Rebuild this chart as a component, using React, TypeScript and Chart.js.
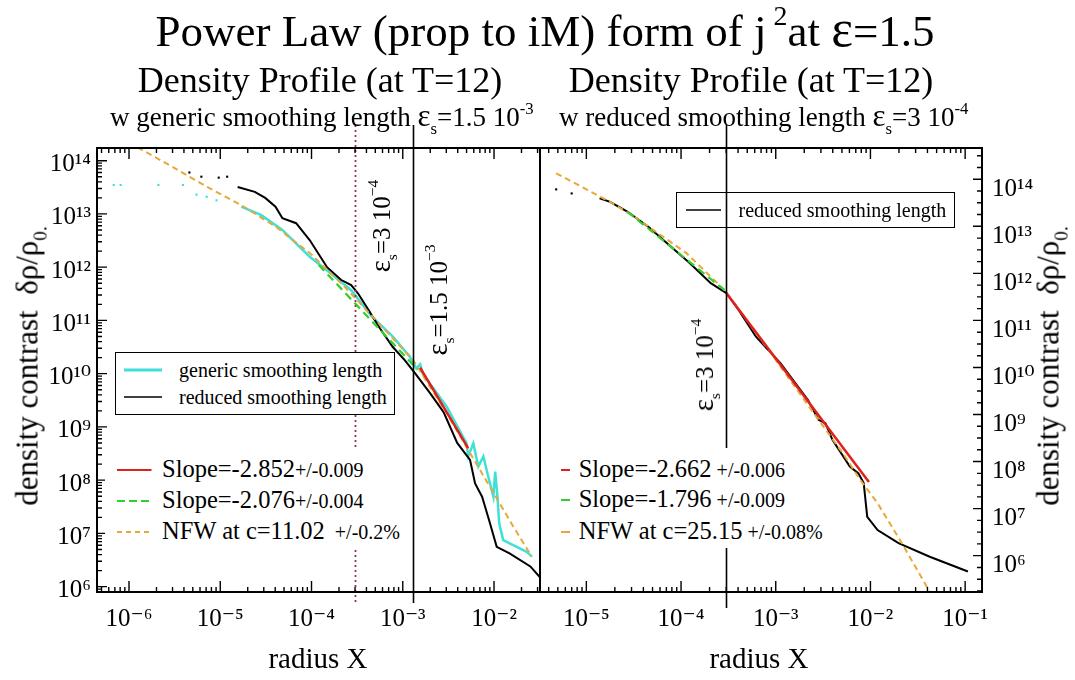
import React, { useEffect, useRef } from 'react';
import { Chart, registerables } from 'chart.js';

Chart.register(...registerables);

// ---------------- axis ranges ----------------
const LEFT_X_RANGE = [4.46e-7, 3.19e-2];
const LEFT_Y_RANGE = [7.94e5, 1.73e14];
const RIGHT_X_RANGE = [3.24e-6, 0.1507];
const RIGHT_Y_RANGE = [1.69e5, 4.62e14];

// ---------------- left panel (eps_s = 1.5e-3) ----------------
const leftGenericDotsX = [6.8e-7, 8.1e-7, 2.1e-6, 3.9e-6, 5.5e-6, 7.1e-6, 9.1e-6];
const leftGenericDotsY = [3.5e13, 3.5e13, 3.5e13, 3.5e13, 2.3e13, 2.1e13, 1.8e13];
const leftGenericX = [1.7e-5, 2.82e-5, 4.79e-5, 9.55e-5, 1.62e-4, 2.72e-4, 4.59e-4, 7.74e-4, 1.19e-3, 1.41e-3, 1.55e-3, 1.66e-3, 2.2e-3, 3.03e-3, 5.0e-3, 5.22e-3, 5.93e-3, 6.73e-3, 7.64e-3, 8.65e-3, 9.84e-3, 1.03e-2, 1.09e-2, 1.14e-2, 1.26e-2, 2.28e-2, 2.59e-2];
const leftGenericY = [1.37e13, 9.5e12, 5.0e12, 1.57e12, 7.7e11, 3.7e11, 1.18e11, 5.0e10, 2.1e10, 1.26e10, 1.5e10, 9.8e9, 5.1e9, 2.4e9, 4.9e8, 2.8e8, 4.9e8, 1.8e8, 2.8e8, 1.16e8, 4.9e7, 1.45e8, 4.9e7, 1.55e7, 7.5e6, 4.5e6, 3.7e6];
const leftReducedDotsX = [4.59e-6, 6.21e-6, 9.62e-6, 1.19e-5];
const leftReducedDotsY = [6.0e13, 5.0e13, 4.8e13, 5.0e13];
const leftReducedX = [1.55e-5, 2.39e-5, 3.11e-5, 4.03e-5, 4.8e-5, 6.78e-5, 9.59e-5, 1.48e-4, 2.1e-4, 2.72e-4, 3.24e-4, 4.22e-4, 5.47e-4, 7.74e-4, 1.05e-3, 1.36e-3, 1.99e-3, 2.8e-3, 3.95e-3, 5.46e-3, 6.2e-3, 7.4e-3, 8.8e-3, 1.07e-2, 1.48e-2, 2.5e-2, 3.19e-2];
const leftReducedY = [3.2e13, 2.6e13, 2.0e13, 1.37e13, 8.3e12, 6.7e12, 3.2e12, 1.0e12, 5.8e11, 4.6e11, 3.2e11, 1.57e11, 7.6e10, 3.2e10, 1.8e10, 1.02e10, 4.3e9, 1.9e9, 5.0e8, 2.4e8, 8.7e7, 4.9e7, 1.8e7, 5.6e6, 4.2e6, 2.4e6, 1.5e6];
const leftSteepFitX = [1.55e-3, 5.2e-3];
const leftSteepFitY = [1.3e10, 4.0e8];
const leftInnerFitX = [1.2e-4, 1.45e-3];
const leftInnerFitY = [1.1e12, 1.2e10];
const leftNfwX = [1.24e-6, 2.97e-6, 7.08e-6, 1.69e-5, 4.03e-5, 9.64e-5, 2.3e-4, 5.47e-4, 1.3e-3, 3.03e-3, 7.03e-3, 1.63e-2, 2.59e-2];
const leftNfwY = [1.78e14, 7.7e13, 3.25e13, 1.47e13, 5.8e12, 1.82e12, 4.3e11, 8.8e10, 1.8e10, 1.8e9, 1.55e8, 1.34e7, 3.66e6];
const leftSmoothingDotted = [3e-4];
const leftSmoothingSolid = [1.3e-3];

// ---------------- right panel (eps_s = 3e-4) ----------------
const rightReducedDotsX = [4.8e-6, 7.0e-6];
const rightReducedDotsY = [6.1e13, 5.0e13];
const rightReducedX = [1.38e-5, 1.78e-5, 2.71e-5, 4.51e-5, 7.47e-5, 1.24e-4, 2.06e-4, 3.02e-4, 4.05e-4, 6.18e-4, 1.12e-3, 2.19e-3, 2.83e-3, 3.35e-3, 3.97e-3, 6.06e-3, 7.48e-3, 8.49e-3, 9.25e-3, 1.19e-2, 1.98e-2, 4.23e-2, 0.107];
const rightReducedY = [3.95e13, 3.3e13, 2.05e13, 9.8e12, 4.0e12, 1.64e12, 6.2e11, 3.8e11, 1.67e11, 4.5e10, 1.23e10, 2.04e9, 7.7e8, 6.5e8, 2.9e8, 7.8e7, 5.6e7, 3.5e7, 6.7e6, 3.5e6, 1.84e6, 9.5e5, 4.6e5];
const rightSteepFitX = [3.02e-4, 9.64e-3];
const rightSteepFitY = [3.8e11, 3.7e7];
const rightInnerFitX = [2.71e-5, 2.88e-4];
const rightInnerFitY = [2.05e13, 4.4e11];
const rightNfwX = [4.8e-6, 1.78e-5, 3.21e-5, 1.14e-4, 2.88e-4, 9.44e-4, 2.83e-3, 5.12e-3, 7.8e-3, 1.19e-2, 2.15e-2, 4.23e-2];
const rightNfwY = [1.34e14, 3.3e13, 1.6e13, 2.7e12, 4.4e11, 1.7e10, 7.7e8, 1.5e8, 4.1e7, 1.3e7, 1.84e6, 1.7e5];
const rightSmoothingSolid = [3e-4];

// ---------------- styling ----------------
const FONT = "'Liberation Serif', 'Times New Roman', 'DejaVu Serif', serif";
const CYAN = '#3fe0d8';
const RED = '#e0201c';
const GREEN = '#2fd02f';
const ORANGE = '#e8a838';
const MAROON = '#a0304a';

const SUP: Record<string, string> = { '-': '⁻', '0': '⁰', '1': '¹', '2': '²', '3': '³', '4': '⁴', '5': '⁵', '6': '⁶', '7': '⁷', '8': '⁸', '9': '⁹' };

function powerLabel(v: number): string {
  if (!(v > 0)) return '';
  const e = Math.log10(v);
  const r = Math.round(e);
  if (Math.abs(e - r) > 1e-6) return '';
  return '10' + String(r).split('').map((c) => SUP[c] ?? c).join('');
}

function logTicks(min: number, max: number, mode: string) {
  const out: { v: number; major: boolean }[] = [];
  const e0 = Math.floor(Math.log10(min));
  const e1 = Math.ceil(Math.log10(max));
  for (let e = e0; e <= e1; e++) {
    if (mode === 'quarter') {
      for (let k = 0; k < 4; k++) out.push({ v: Math.pow(10, e + k / 4), major: k === 0 });
    } else {
      for (let m = 1; m <= 9; m++) out.push({ v: m * Math.pow(10, e), major: m === 1 });
    }
  }
  return out.filter((t) => t.v >= min * 0.9999 && t.v <= max * 1.0001);
}

const frameAndTicks = {
  id: 'frameAndTicks',
  afterDatasetsDraw(chart: any, _args: any, opts: any) {
    const { ctx, chartArea: a } = chart;
    const xs = chart.scales.x;
    const ys = chart.scales.y;
    ctx.save();
    (opts.markers || []).forEach((m: any) => {
      m.values.forEach((val: number) => {
        const px = Math.round(xs.getPixelForValue(val)) + 0.5;
        ctx.beginPath();
        ctx.setLineDash(m.dash || []);
        ctx.lineWidth = m.width;
        ctx.strokeStyle = m.color;
        ctx.moveTo(px, a.top - opts.above);
        ctx.lineTo(px, a.bottom + opts.below);
        ctx.stroke();
      });
    });
    ctx.setLineDash([]);
    ctx.strokeStyle = '#000';
    ctx.lineWidth = 1.4;
    ctx.beginPath();
    logTicks(xs.min, xs.max, 'full').forEach((t) => {
      const px = xs.getPixelForValue(t.v);
      const len = t.major ? opts.xMajor : opts.xMinor;
      ctx.moveTo(px, a.bottom);
      ctx.lineTo(px, a.bottom - len);
      ctx.moveTo(px, a.top);
      ctx.lineTo(px, a.top + len);
    });
    logTicks(ys.min, ys.max, opts.yMode).forEach((t) => {
      const py = ys.getPixelForValue(t.v);
      const len = t.major ? opts.yMajor : opts.yMinor;
      if (opts.tickLeft) {
        ctx.moveTo(a.left, py);
        ctx.lineTo(a.left + len, py);
      }
      if (opts.tickRight) {
        ctx.moveTo(a.right, py);
        ctx.lineTo(a.right - len, py);
      }
    });
    ctx.stroke();
    ctx.lineWidth = 2;
    ctx.strokeRect(a.left, a.top, a.right - a.left, a.bottom - a.top);
    ctx.restore();
  },
};

const pts = (xs: number[], ys: number[]) => xs.map((x, i) => ({ x, y: ys[i] }));

function lineSet(label: string, xs: number[], ys: number[], color: string, width: number, dash: number[] = []) {
  return {
    label,
    data: pts(xs, ys),
    showLine: true,
    borderColor: color,
    backgroundColor: color,
    borderWidth: width,
    borderDash: dash,
    pointRadius: 0,
    tension: 0,
  };
}

function dotSet(label: string, xs: number[], ys: number[], color: string) {
  return {
    label,
    data: pts(xs, ys),
    showLine: false,
    pointRadius: 1.5,
    pointStyle: 'rect',
    borderWidth: 0,
    backgroundColor: color,
    borderColor: color,
  };
}

function makeConfig(datasets: any[], xr: number[], yr: number[], yPos: string, yWidth: number, yPad: number, yOffset: number, padding: any, plug: any) {
  const tickFont = { family: FONT, size: 25 };
  return {
    type: 'scatter',
    data: { datasets },
    options: {
      animation: false,
      responsive: false,
      events: [],
      layout: { padding },
      plugins: {
        legend: { display: false },
        tooltip: { enabled: false },
        frameAndTicks: plug,
      },
      scales: {
        x: {
          type: 'logarithmic',
          position: 'bottom',
          min: xr[0],
          max: xr[1],
          grid: { display: false, drawTicks: false },
          border: { display: false },
          ticks: {
            autoSkip: false,
            maxRotation: 0,
            minRotation: 0,
            padding: 12,
            color: '#000',
            font: tickFont,
            callback: (v: any) => powerLabel(Number(v)),
          },
          afterFit: (s: any) => {
            s.height = 88;
          },
        },
        y: {
          type: 'logarithmic',
          position: yPos,
          min: yr[0],
          max: yr[1],
          grid: { display: false, drawTicks: false },
          border: { display: false },
          ticks: {
            autoSkip: false,
            padding: yPad,
            labelOffset: yOffset,
            color: '#000',
            font: tickFont,
            callback: (v: any) => powerLabel(Number(v)),
          },
          afterFit: (s: any) => {
            s.width = yWidth;
          },
        },
      },
    },
    plugins: [frameAndTicks],
  };
}

// ---------------- small text helpers ----------------
const Sup = ({ children, s = 0.62, dy = 0.75, ml = 0 }: any) => (
  <span style={{ fontSize: `${s}em`, position: 'relative', top: `-${dy}em`, lineHeight: 0, marginLeft: ml }}>{children}</span>
);
const Sub = ({ children, s = 0.62, dy = 0.45 }: any) => (
  <span style={{ fontSize: `${s}em`, position: 'relative', top: `${dy}em`, lineHeight: 0 }}>{children}</span>
);
const Eps = () => <span style={{ fontSize: '1.15em' }}>ε</span>;

function Txt({ x, base, size, align = 'left', children, style }: any) {
  const top = base - 0.8375 * size;
  const common: any = { position: 'absolute', top, fontSize: size, lineHeight: `${size}px`, whiteSpace: 'nowrap' };
  if (align === 'center') {
    return <div style={{ ...common, left: x - 600, width: 1200, textAlign: 'center', ...style }}>{children}</div>;
  }
  return <div style={{ ...common, left: x, ...style }}>{children}</div>;
}

function Rot({ cx, cy, size, children }: any) {
  return (
    <div
      style={{
        position: 'absolute',
        left: cx,
        top: cy,
        fontSize: size,
        lineHeight: `${size}px`,
        whiteSpace: 'nowrap',
        transform: 'translate(-50%, -50%) rotate(-90deg)',
      }}
    >
      {children}
    </div>
  );
}

function Sample({ x1, x2, y, color, width, dash }: any) {
  return (
    <svg style={{ position: 'absolute', left: x1, top: y - 5, overflow: 'visible' }} width={x2 - x1} height={10}>
      <line x1={0} y1={5} x2={x2 - x1} y2={5} stroke={color} strokeWidth={width} strokeDasharray={dash} />
    </svg>
  );
}

export default function App() {
  const leftRef = useRef<HTMLCanvasElement>(null);
  const rightRef = useRef<HTMLCanvasElement>(null);

  useEffect(() => {
    const leftDatasets = [
      lineSet('Slope=-2.852', leftSteepFitX, leftSteepFitY, RED, 2.5),
      lineSet('Slope=-2.076', leftInnerFitX, leftInnerFitY, GREEN, 2.2, [8, 5]),
      lineSet('NFW at c=11.02', leftNfwX, leftNfwY, ORANGE, 2, [6, 4]),
      lineSet('reduced smoothing length', leftReducedX, leftReducedY, '#000', 2),
      dotSet('reduced smoothing length (inner)', leftReducedDotsX, leftReducedDotsY, '#000'),
      lineSet('generic smoothing length', leftGenericX, leftGenericY, CYAN, 2.5),
      dotSet('generic smoothing length (inner)', leftGenericDotsX, leftGenericDotsY, CYAN),
    ];
    const rightDatasets = [
      lineSet('Slope=-2.662', rightSteepFitX, rightSteepFitY, RED, 2.5),
      lineSet('Slope=-1.796', rightInnerFitX, rightInnerFitY, GREEN, 2.2, [8, 5]),
      lineSet('NFW at c=25.15', rightNfwX, rightNfwY, ORANGE, 2, [6, 4]),
      lineSet('reduced smoothing length', rightReducedX, rightReducedY, '#000', 2),
      dotSet('reduced smoothing length (inner)', rightReducedDotsX, rightReducedDotsY, '#000'),
    ];
    const left = new Chart(
      leftRef.current as HTMLCanvasElement,
      makeConfig(leftDatasets, LEFT_X_RANGE, LEFT_Y_RANGE, 'left', 97, 6, 4, { top: 148, right: 20, bottom: 0, left: 0 }, {
        markers: [
          { values: leftSmoothingDotted, color: MAROON, width: 1.8, dash: [2, 3] },
          { values: leftSmoothingSolid, color: '#000', width: 1.6, dash: [] },
        ],
        above: 23,
        below: 11,
        xMajor: 11,
        xMinor: 5,
        yMajor: 10,
        yMinor: 5,
        yMode: 'full',
        tickLeft: true,
        tickRight: false,
      }) as any
    );
    const right = new Chart(
      rightRef.current as HTMLCanvasElement,
      makeConfig(rightDatasets, RIGHT_X_RANGE, RIGHT_Y_RANGE, 'right', 93, 10, 10, { top: 148, right: 0, bottom: 0, left: 20 }, {
        markers: [{ values: rightSmoothingSolid, color: '#000', width: 1.6, dash: [] }],
        above: 23,
        below: 16,
        xMajor: 11,
        xMinor: 5,
        yMajor: 9,
        yMinor: 5,
        yMode: 'quarter',
        tickLeft: false,
        tickRight: true,
      }) as any
    );
    return () => {
      left.destroy();
      right.destroy();
    };
  }, []);

  return (
    <div
      style={{
        position: 'absolute',
        left: 0,
        top: 0,
        width: 1075,
        height: 680,
        background: '#fff',
        overflow: 'hidden',
        fontFamily: FONT,
        color: '#000',
      }}
    >
      <canvas ref={leftRef} width={560} height={680} style={{ position: 'absolute', left: 0, top: 0 }} />
      <canvas ref={rightRef} width={555} height={680} style={{ position: 'absolute', left: 520, top: 0 }} />

      {/* titles */}
      <Txt x={545} base={44} size={45} align="center">
        Power Law (prop to iM) form of j<Sup ml="0.25em">2</Sup>at <Eps />=1.5
      </Txt>
      <Txt x={320} base={92} size={36} align="center">Density Profile (at T=12)</Txt>
      <Txt x={751} base={92} size={36} align="center">Density Profile (at T=12)</Txt>
      <Txt x={110} base={125} size={27}>
        w generic smoothing length <Eps />
        <Sub>s</Sub>=1.5 10<Sup>-3</Sup>
      </Txt>
      <Txt x={559} base={125} size={27}>
        w reduced smoothing length <Eps />
        <Sub>s</Sub>=3 10<Sup>-4</Sup>
      </Txt>

      {/* axis titles */}
      <Rot cx={27} cy={366} size={31}>
        density contrast&nbsp;&nbsp;δρ/ρ<Sub>0.</Sub>
      </Rot>
      <Rot cx={1048} cy={366} size={31}>
        density contrast&nbsp;&nbsp;δρ/ρ<Sub>0.</Sub>
      </Rot>
      <Txt x={318} base={668} size={29} align="center">radius X</Txt>
      <Txt x={759} base={668} size={29} align="center">radius X</Txt>

      {/* smoothing-length annotations */}
      <Rot cx={381} cy={226} size={25}>
        <Eps />
        <Sub>s</Sub>=3 10<Sup>−4</Sup>
      </Rot>
      <Rot cx={438} cy={300} size={25}>
        <Eps />
        <Sub>s</Sub>=1.5 10<Sup>−3</Sup>
      </Rot>
      <Rot cx={704} cy={365} size={25}>
        <Eps />
        <Sub>s</Sub>=3 10<Sup>−4</Sup>
      </Rot>

      {/* left upper legend */}
      <div style={{ position: 'absolute', left: 115, top: 352, width: 280, height: 63, border: '1.5px solid #000', background: '#fff', boxSizing: 'border-box' }} />
      <Sample x1={124} x2={162} y={369.5} color={CYAN} width={3} />
      <Txt x={179} base={376.5} size={20}>generic smoothing length</Txt>
      <Sample x1={124} x2={162} y={397} color="#000" width={1.6} />
      <Txt x={179} base={404} size={20}>reduced smoothing length</Txt>

      {/* left lower legend */}
      <div style={{ position: 'absolute', left: 105, top: 450, width: 303, height: 100, background: '#fff' }} />
      <Sample x1={117} x2={151.5} y={470} color={RED} width={2} />
      <Txt x={162} base={478} size={24.5}>
        Slope=-2.852<span style={{ fontSize: 20 }}>+/-0.009</span>
      </Txt>
      <Sample x1={117} x2={151.5} y={501} color={GREEN} width={2} dash="8 4" />
      <Txt x={162} base={509} size={24.5}>
        Slope=-2.076<span style={{ fontSize: 20 }}>+/-0.004</span>
      </Txt>
      <Sample x1={117} x2={151.5} y={532} color={ORANGE} width={2} dash="5 4" />
      <Txt x={162} base={540} size={24.5}>
        NFW at c=11.02<span style={{ fontSize: 20 }}>&nbsp;&nbsp;+/-0.2%</span>
      </Txt>

      {/* right upper legend */}
      <div style={{ position: 'absolute', left: 676, top: 192, width: 279, height: 36, border: '1.5px solid #000', boxSizing: 'border-box' }} />
      <Sample x1={686} x2={721} y={209.5} color="#000" width={1.6} />
      <Txt x={738.5} base={216.5} size={20}>reduced smoothing length</Txt>

      {/* right lower legend */}
      <div style={{ position: 'absolute', left: 553, top: 448, width: 282, height: 100, background: '#fff' }} />
      <Sample x1={561} x2={570} y={470} color={RED} width={2} />
      <Txt x={578.7} base={478} size={24.5}>
        Slope=-2.662<span style={{ fontSize: 20 }}>&nbsp;+/-0.006</span>
      </Txt>
      <Sample x1={561} x2={570} y={500} color={GREEN} width={2} />
      <Txt x={578.7} base={508} size={24.5}>
        Slope=-1.796<span style={{ fontSize: 20 }}>&nbsp;+/-0.009</span>
      </Txt>
      <Sample x1={561} x2={570} y={532} color={ORANGE} width={2} />
      <Txt x={578.7} base={540} size={24.5}>
        NFW at c=25.15<span style={{ fontSize: 20 }}>&nbsp;+/-0.08%</span>
      </Txt>
    </div>
  );
}
